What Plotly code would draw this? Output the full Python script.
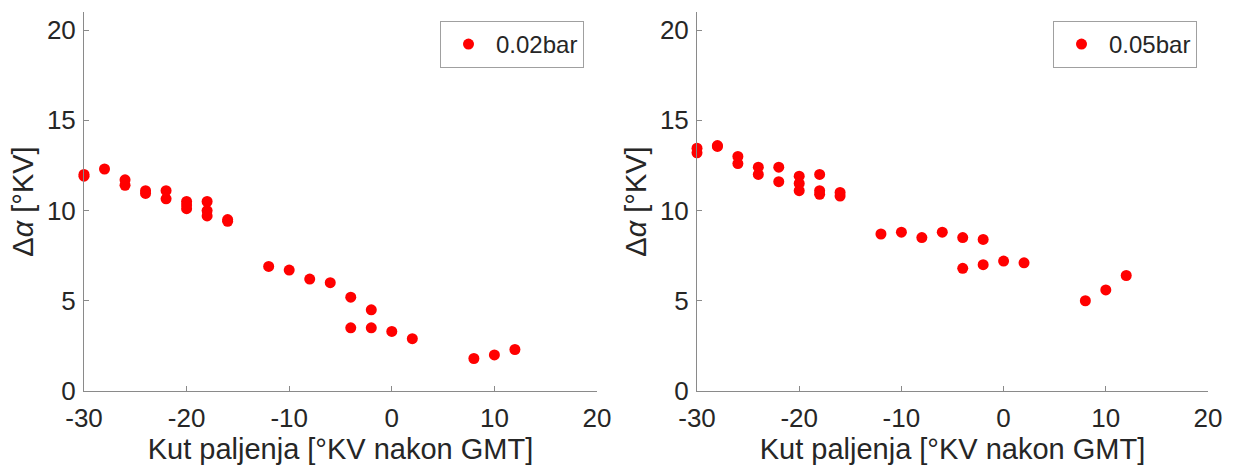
import plotly.graph_objects as go

# ---- data ----
x_002 = [-30, -30, -28, -26, -26, -24, -24, -22, -22, -20, -20, -20, -18, -18, -18,
         -16, -16, -12, -10, -8, -6, -4, -4, -2, -2, 0, 2, 8, 10, 12]
y_002 = [12.0, 11.9, 12.3, 11.7, 11.4, 11.1, 10.95, 11.1, 10.65, 10.5, 10.3, 10.1,
         10.5, 10.0, 9.7, 9.5, 9.4, 6.9, 6.7, 6.2, 6.0, 5.2, 3.5, 4.5, 3.5, 3.3, 2.9,
         1.8, 2.0, 2.3]

x_005 = [-30, -30, -28, -28, -26, -26, -24, -24, -22, -22, -20, -20, -20, -18, -18,
         -18, -16, -16, -12, -10, -8, -6, -4, -4, -2, -2, 0, 2, 8, 10, 12]
y_005 = [13.45, 13.2, 13.6, 13.55, 13.0, 12.6, 12.4, 12.0, 12.4, 11.6, 11.9, 11.5,
         11.1, 12.0, 11.1, 10.9, 11.0, 10.8, 8.7, 8.8, 8.5, 8.8, 8.5, 6.8, 8.4, 7.0,
         7.2, 7.1, 5.0, 5.6, 6.4]

series_names = ["0.02bar", "0.05bar"]
x_ticks = [-30, -20, -10, 0, 10, 20]
x_tick_labels = ["-30", "-20", "-10", "0", "10", "20"]
y_ticks = [0, 5, 10, 15, 20]
y_tick_labels = ["0", "5", "10", "15", "20"]
x_title = "Kut paljenja [°KV nakon GMT]"
y_title = "Δ<i>α</i> [°KV]"

W, H = 1237, 472
FONT = "Liberation Sans, Arial, sans-serif"
TXT = "#262626"
AX = "#8a8a8a"
RED = "#ff0000"

fig = go.Figure()
fig.add_trace(go.Scatter(x=x_002, y=y_002, mode="markers", name=series_names[0],
                         marker=dict(color=RED, size=11), cliponaxis=False,
                         xaxis="x", yaxis="y", legend="legend"))
fig.add_trace(go.Scatter(x=x_005, y=y_005, mode="markers", name=series_names[1],
                         marker=dict(color=RED, size=11), cliponaxis=False,
                         xaxis="x2", yaxis="y2", legend="legend2"))

def xax(domain, anchor):
    return dict(domain=domain, anchor=anchor, range=[-30, 20], tickvals=x_ticks,
                ticktext=x_tick_labels, ticks="inside", ticklen=5, tickcolor=AX,
                showline=True, linecolor=AX, linewidth=1, showgrid=False,
                zeroline=False, automargin=False,
                tickfont=dict(size=26, color=TXT, family=FONT),
                ticklabelstandoff=4,
                title=dict(text=x_title, font=dict(size=29, color=TXT, family=FONT),
                           standoff=4))

def yax(domain, anchor):
    return dict(domain=domain, anchor=anchor, range=[0, 21], tickvals=y_ticks,
                ticktext=y_tick_labels, ticks="inside", ticklen=5, tickcolor=AX,
                showline=True, linecolor=AX, linewidth=1, showgrid=False,
                zeroline=False, automargin=False,
                tickfont=dict(size=26, color=TXT, family=FONT),
                ticklabelstandoff=2,
                title=dict(text=y_title, font=dict(size=29, color=TXT, family=FONT),
                           standoff=4))

def legend_box(right_px):
    return dict(x=right_px / W, y=1 - 21 / H, xanchor="right", yanchor="top",
                bordercolor="#a0a0a0", borderwidth=1, bgcolor="white",
                itemwidth=45, tracegroupgap=0,
                font=dict(size=24, color=TXT, family=FONT))

yd = [81 / H, 460 / H]
fig.update_layout(
    width=W, height=H, margin=dict(l=0, r=0, t=0, b=0, autoexpand=False),
    paper_bgcolor="white", plot_bgcolor="white",
    font=dict(family=FONT, color=TXT),
    xaxis=xax([84 / W, 597 / W], "y"),
    yaxis=yax(yd, "x"),
    xaxis2=xax([697 / W, 1208 / W], "y2"),
    yaxis2=yax(yd, "x2"),
    legend=legend_box(584),
    legend2=legend_box(1197),
    showlegend=True,
)

fig.write_html("out.html", config={"displayModeBar": False},
               post_script="document.body.style.margin='0';document.body.style.padding='0';")
